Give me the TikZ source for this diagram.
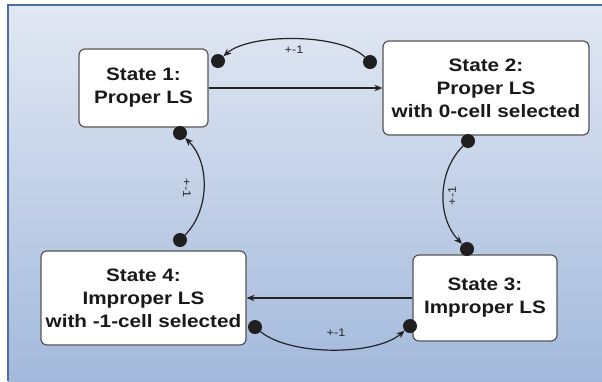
\documentclass[tikz,border=0pt]{standalone}
\usepackage{fontspec}
\setmainfont{Liberation Sans}[FakeStretch=1.15]
\usetikzlibrary{arrows.meta}
\definecolor{bgtop}{RGB}{226,232,243}
\definecolor{bgbot}{RGB}{163,185,220}
\definecolor{framec}{RGB}{74,110,165}
\definecolor{boxc}{RGB}{85,85,85}
\definecolor{linec}{RGB}{35,35,35}
\tikzset{
  statebox/.style={draw=boxc, line width=1.2pt, fill=white, rounded corners=6pt,
    align=center, inner sep=0pt, font=\fontsize{18}{23}\selectfont\bfseries, text=black!90},
  dotnode/.style={circle, fill=black!88, minimum size=14pt, inner sep=0pt},
  conn/.style={draw=linec, line width=1.2pt},
  arrowconn/.style={conn, -{Stealth[length=8pt,width=6.5pt]}},
  smalllabel/.style={font=\fontsize{11}{13}\selectfont, text=black!85, inner sep=1pt}
}
\begin{document}
\begin{tikzpicture}[x=1pt, y=-1pt]
\useasboundingbox (0,0) rectangle (602,381);
\shade[top color=bgtop, bottom color=bgbot] (8,5) rectangle (602,381);
\draw[framec, line width=1.5pt] (8,381) -- (8,5) -- (602,5);

\node[statebox, minimum width=129pt, minimum height=78pt] (s1) at (143.5,88) {State 1:\\Proper LS};
\node[statebox, minimum width=206pt, minimum height=94pt] (s2) at (486,88) {State 2:\\Proper LS\\with 0-cell selected};
\node[statebox, minimum width=144pt, minimum height=86pt] (s3) at (485,298) {State 3:\\Improper LS};
\node[statebox, minimum width=205pt, minimum height=94pt] (s4) at (143.5,298) {State 4:\\Improper LS\\with -1-cell selected};

\draw[arrowconn] (s1.east) -- (s2.west);
\draw[arrowconn] (s3.west) -- (s4.east);

\node[dotnode] (d2a) at (370,62) {};
\node[dotnode] (d1a) at (218,61) {};
\node[dotnode] (d2b) at (468,141) {};
\node[dotnode] (d3a) at (467,249) {};
\node[dotnode] (d4b) at (255,327) {};
\node[dotnode] (d3b) at (410,326) {};
\node[dotnode] (d4a) at (180,240) {};
\node[dotnode] (d1b) at (180,133) {};

\draw[arrowconn] (d2a) .. controls (340,33) and (250,33) .. (d1a);
\draw[arrowconn] (d2b) .. controls (437,172) and (437,218) .. (d3a);
\draw[arrowconn] (d4b) .. controls (290,356) and (375,356) .. (d3b);
\draw[arrowconn] (d4a) .. controls (210,210) and (210,162) .. (d1b);

\node[smalllabel] (l1) at (294,50) {+-1};
\node[smalllabel] (l2) at (336,333) {+-1};
\node[smalllabel, rotate=-90] (l3) at (187,188) {+-1};
\node[smalllabel, rotate=90] (l4) at (452,196) {+-1};
\end{tikzpicture}
\end{document}
